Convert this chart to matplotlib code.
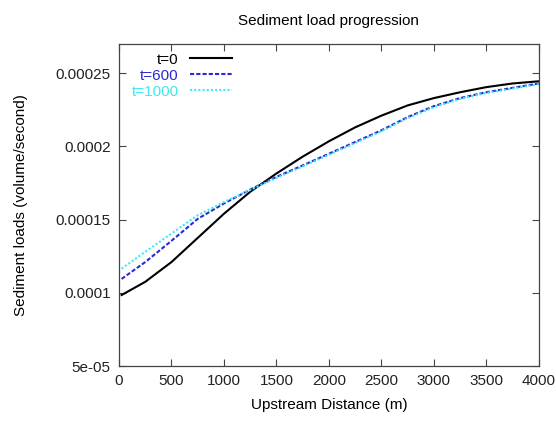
import matplotlib
matplotlib.use("Agg")
import matplotlib.pyplot as plt
import numpy as np

plt.rcParams['font.family'] = ['Liberation Sans', 'DejaVu Sans']
plt.rcParams['font.size'] = 11

# upstream distance (m)
distance = [25, 250, 500, 750, 1000, 1250, 1500, 1750, 2000,
            2250, 2500, 2750, 3000, 3250, 3500, 3750, 4000]

# sediment load (volume/second) at each time
load_t0 = [0.0000985, 0.0001075, 0.000121, 0.0001375, 0.000154, 0.000169,
           0.0001815, 0.000193, 0.0002035, 0.000213, 0.000221, 0.000228,
           0.000233, 0.000237, 0.0002405, 0.000243, 0.0002445]
load_t600 = [0.0001095, 0.000121, 0.0001355, 0.0001505, 0.000161, 0.0001705,
             0.0001792, 0.000187, 0.000195, 0.000203, 0.000211, 0.000220,
             0.0002275, 0.000233, 0.000237, 0.000240, 0.000243]
load_t1000 = [0.0001165, 0.000128, 0.0001405, 0.000153, 0.000162, 0.0001702,
              0.0001785, 0.0001863, 0.0001943, 0.0002023, 0.0002103, 0.0002193,
              0.0002268, 0.0002325, 0.0002365, 0.0002395, 0.0002425]

xticks = [0, 500, 1000, 1500, 2000, 2500, 3000, 3500, 4000]
yticks = [5e-05, 0.0001, 0.00015, 0.0002, 0.00025]
ytick_labels = ['5e-05', '0.0001', '0.00015', '0.0002', '0.00025']

fig = plt.figure(figsize=(5.56, 4.21), dpi=100)
ax = fig.add_axes([0.214, 0.1306, 0.755, 0.765])

ax.plot(distance, load_t0, color='black', lw=1.5, label='t=0')
ax.plot(distance, load_t600, color='#2a2ad0', lw=1.5, ls=(0, (2, 1)), label='t=600')
ax.plot(distance, load_t1000, color='#40e8f0', lw=1.5, ls=(0, (1, 1)), label='t=1000')

ax.set_xlim(0, 4000)
ax.set_ylim(5e-05, 0.00027)
ax.set_xticks(xticks)
ax.set_yticks(yticks)
ax.set_yticklabels(ytick_labels)
ax.tick_params(direction='in', top=True, right=True, length=5, width=0.8,
               color='#444444', labelcolor='#222222')
ax.tick_params(axis='x', pad=6)
ax.tick_params(axis='y', pad=6)
for s in ax.spines.values():
    s.set_color('#444444')
    s.set_linewidth(0.9)

ax.set_title('Sediment load progression', fontsize=11, pad=14)
ax.set_xlabel('Upstream Distance (m)', labelpad=7)
ax.set_ylabel('Sediment loads (volume/second)', labelpad=20)

# gnuplot style key: label on the left, right aligned, sample on the right
ax.legend(loc='upper left', markerfirst=False, frameon=False,
          handlelength=2.75, handletextpad=0.75, labelspacing=0.13,
          borderaxespad=0.0, bbox_to_anchor=(0.015, 0.992),
          labelcolor='linecolor')

fig.savefig('out.png', dpi=100)
